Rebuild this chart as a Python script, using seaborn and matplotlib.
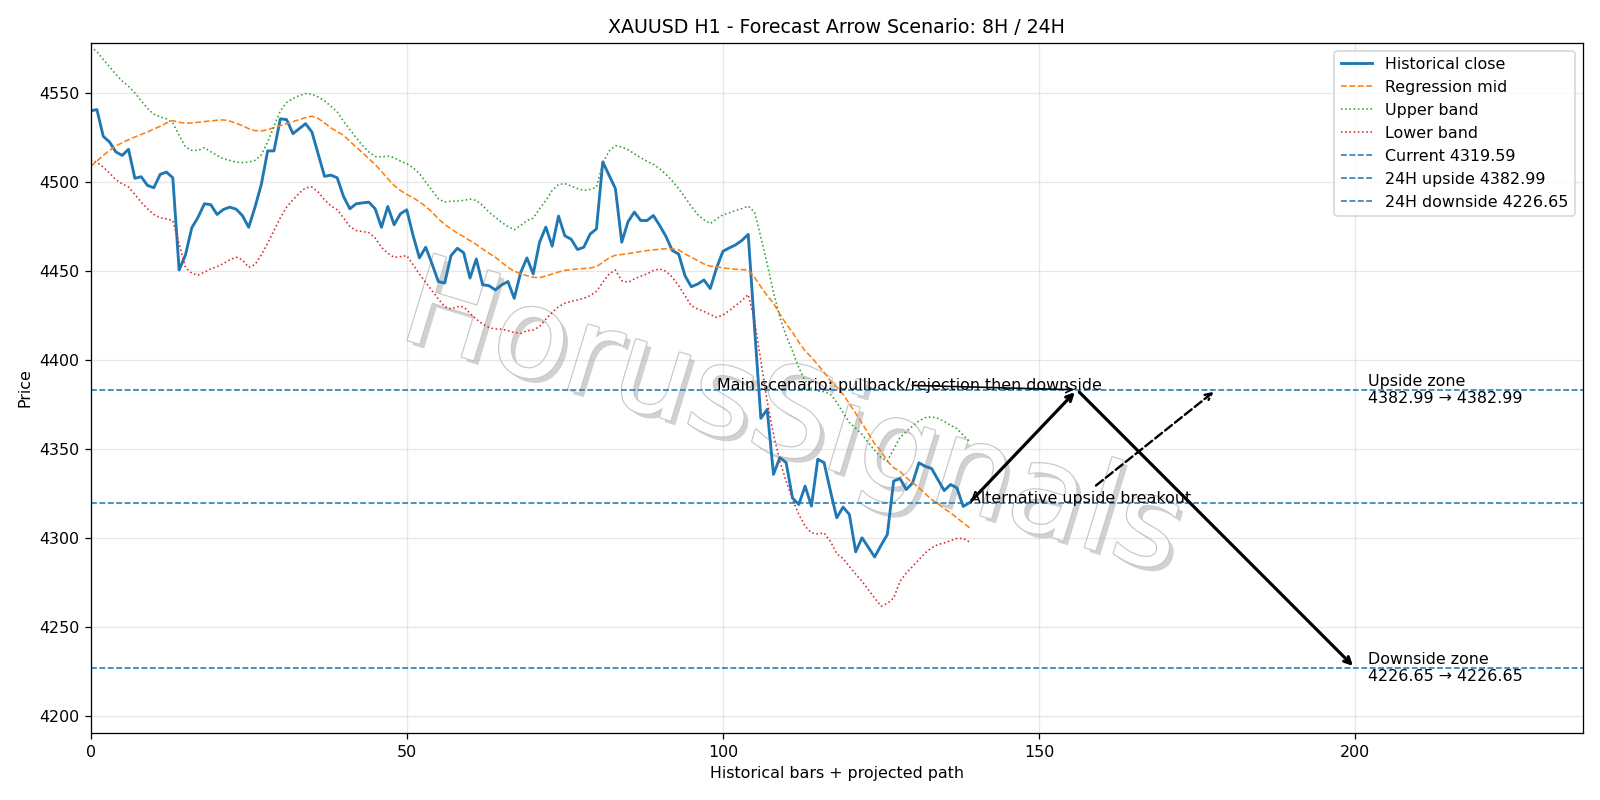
import numpy as np
import pandas as pd
import matplotlib
matplotlib.use("Agg")
import matplotlib.pyplot as plt
import matplotlib.patheffects as pe
import seaborn as sns

# --- data ---
close = [4539.7, 4540.4, 4525.4, 4522.2, 4516.6, 4514.7, 4518.1, 4501.8, 4502.7, 4497.8,
         4496.5, 4504.0, 4505.3, 4502.1, 4450.3, 4458.7, 4474.0, 4480.0, 4487.5, 4487.0,
         4481.5, 4484.3, 4485.6, 4484.5, 4480.9, 4474.3, 4485.6, 4498.4, 4517.2, 4517.2,
         4535.2, 4534.8, 4526.9, 4529.7, 4532.5, 4527.8, 4515.3, 4502.9, 4503.6, 4502.1,
         4491.6, 4484.7, 4487.5, 4488.0, 4488.4, 4484.7, 4474.3, 4486.0, 4475.7, 4481.9,
         4484.1, 4469.7, 4457.1, 4463.1, 4453.7, 4443.8, 4443.0, 4458.4, 4462.5, 4460.0,
         4445.8, 4456.5, 4442.0, 4441.5, 4439.1, 4441.9, 4443.8, 4434.4, 4448.7, 4457.1,
         4448.1, 4465.9, 4474.4, 4463.7, 4480.6, 4469.5, 4467.6, 4461.8, 4463.1, 4470.5,
         4473.4, 4511.0, 4503.5, 4496.0, 4465.9, 4477.5, 4482.8, 4478.1, 4478.1, 4480.9,
         4475.3, 4469.1, 4461.2, 4459.3, 4447.1, 4440.9, 4442.4, 4444.7, 4439.9, 4451.5,
         4460.8, 4462.7, 4464.4, 4466.9, 4470.3, 4418.0, 4367.0, 4372.0, 4335.5, 4344.9,
         4342.1, 4322.3, 4318.6, 4328.9, 4317.7, 4344.0, 4342.1, 4326.2, 4311.1, 4317.1,
         4313.0, 4292.0, 4299.9, 4294.5, 4289.1, 4295.6, 4301.7, 4331.7, 4333.2, 4327.0,
         4330.7, 4342.0, 4340.0, 4338.8, 4332.6, 4326.4, 4329.8, 4327.9, 4317.5, 4319.59]

mid = [4508.5, 4511.5, 4514.7, 4517.5, 4520.0, 4521.8, 4523.5, 4525.0, 4526.5, 4527.8,
       4529.5, 4531.0, 4532.9, 4534.2, 4533.3, 4532.7, 4532.9, 4533.3, 4533.7, 4534.0,
       4534.4, 4534.6, 4534.0, 4532.7, 4531.4, 4529.7, 4528.6, 4528.4, 4529.1, 4530.3,
       4531.4, 4532.5, 4533.6, 4534.8, 4535.9, 4536.7, 4535.4, 4532.9, 4530.1, 4528.0,
       4526.0, 4522.6, 4519.4, 4516.2, 4512.8, 4509.6, 4505.7, 4501.6, 4497.8, 4495.0,
       4492.7, 4490.9, 4488.6, 4486.0, 4482.8, 4479.1, 4475.9, 4473.4, 4471.0, 4469.0,
       4466.8, 4464.6, 4462.1, 4459.7, 4457.5, 4454.6, 4451.8, 4449.6, 4448.3, 4447.1,
       4446.2, 4446.0, 4446.9, 4448.1, 4449.2, 4450.1, 4450.5, 4450.9, 4451.1, 4451.4,
       4452.2, 4454.6, 4457.1, 4458.6, 4459.0, 4459.5, 4460.1, 4460.7, 4461.2, 4461.6,
       4462.0, 4462.2, 4462.2, 4461.6, 4459.4, 4457.5, 4455.6, 4453.7, 4452.4, 4452.2,
       4451.4, 4451.1, 4450.7, 4450.5, 4450.3, 4446.2, 4440.9, 4435.9, 4431.6, 4425.6,
       4420.0, 4415.3, 4409.7, 4404.9, 4401.2, 4397.1, 4392.8, 4388.0, 4384.5, 4380.5,
       4375.2, 4369.8, 4364.3, 4358.4, 4352.7, 4348.6, 4343.0, 4339.2, 4337.2, 4333.6,
       4330.8, 4328.0, 4324.6, 4321.4, 4319.0, 4316.3, 4313.9, 4311.1, 4308.3, 4305.5]

upper = [4575.7, 4572.9, 4568.6, 4564.4, 4560.1, 4556.5, 4553.5, 4549.8, 4545.3, 4541.0,
         4537.8, 4536.3, 4535.2, 4532.9, 4526.0, 4519.4, 4517.5, 4517.5, 4519.0, 4516.7,
         4514.7, 4512.8, 4511.9, 4510.9, 4510.6, 4510.9, 4511.9, 4515.0, 4522.2, 4531.0,
         4539.6, 4544.4, 4546.6, 4548.3, 4549.4, 4549.0, 4547.5, 4545.3, 4542.3, 4539.1,
         4533.8, 4529.2, 4524.6, 4520.3, 4516.6, 4514.1, 4513.8, 4514.3, 4513.4, 4511.5,
         4510.0, 4507.8, 4504.4, 4499.7, 4495.0, 4490.3, 4488.4, 4489.0, 4489.0, 4489.4,
         4490.1, 4489.4, 4486.5, 4482.8, 4480.0, 4477.1, 4474.7, 4472.9, 4475.3, 4478.1,
         4479.4, 4484.7, 4489.4, 4495.0, 4498.4, 4498.8, 4497.5, 4496.0, 4495.0, 4495.6,
         4496.8, 4510.4, 4517.1, 4520.1, 4519.4, 4517.9, 4515.6, 4513.4, 4511.3, 4509.6,
         4507.2, 4504.0, 4500.3, 4495.9, 4491.2, 4486.0, 4481.5, 4478.5, 4476.4, 4479.0,
         4481.3, 4482.4, 4483.7, 4484.8, 4486.2, 4482.8, 4468.7, 4453.7, 4437.7, 4423.7,
         4413.3, 4404.9, 4395.5, 4388.0, 4383.8, 4382.3, 4382.0, 4380.5, 4376.0, 4370.2,
         4364.6, 4361.4, 4358.0, 4353.3, 4349.0, 4344.9, 4343.0, 4349.6, 4356.2, 4359.5,
         4362.7, 4365.5, 4367.4, 4367.8, 4367.0, 4365.2, 4363.1, 4361.2, 4357.5, 4354.0]

lower = [4511.9, 4510.9, 4508.1, 4504.7, 4501.0, 4498.7, 4496.9, 4492.7, 4488.4, 4484.7,
         4481.5, 4479.6, 4479.0, 4478.1, 4464.9, 4451.8, 4448.4, 4447.5, 4449.0, 4451.0,
         4452.2, 4453.9, 4456.0, 4457.5, 4456.0, 4451.8, 4453.3, 4458.8, 4465.3, 4472.5,
         4479.6, 4485.6, 4489.7, 4493.5, 4496.5, 4496.9, 4494.1, 4489.7, 4486.4, 4484.1,
         4479.6, 4474.7, 4472.5, 4471.9, 4471.3, 4468.3, 4463.1, 4459.7, 4457.4, 4457.8,
         4458.4, 4453.3, 4448.0, 4443.4, 4438.7, 4434.0, 4429.7, 4428.4, 4429.7, 4429.7,
         4425.9, 4422.7, 4419.9, 4418.0, 4417.1, 4417.1, 4416.2, 4415.2, 4414.7, 4416.2,
         4416.6, 4418.5, 4422.7, 4426.5, 4429.7, 4431.6, 4432.7, 4433.5, 4434.4, 4435.9,
         4438.3, 4443.4, 4448.1, 4450.3, 4444.3, 4443.4, 4445.3, 4446.8, 4448.1, 4450.0,
         4450.9, 4449.6, 4446.2, 4441.5, 4435.9, 4430.2, 4428.4, 4427.0, 4425.3, 4423.7,
         4425.0, 4427.5, 4430.3, 4433.1, 4436.5, 4421.9, 4399.3, 4376.8, 4358.0, 4343.0,
         4331.7, 4321.4, 4313.0, 4306.4, 4302.6, 4302.1, 4302.6, 4297.9, 4291.0, 4288.2,
         4283.8, 4279.5, 4275.4, 4270.7, 4266.0, 4261.5, 4263.0, 4266.0, 4275.4, 4280.1,
         4283.8, 4287.6, 4291.4, 4294.2, 4296.1, 4297.0, 4298.3, 4299.5, 4299.5, 4297.5]

current = 4319.59
upside = 4382.99
downside = 4226.65

# projected path (bar index)
pull_x = 156
alt_x = 178
down_x = 200
label_x = 202

df = pd.DataFrame({"bar": np.arange(len(close)), "close": close, "mid": mid,
                   "upper": upper, "lower": lower})

fig, ax = plt.subplots(figsize=(14, 7), dpi=100)

sns.lineplot(data=df, x="bar", y="close", ax=ax, color="C0", linewidth=1.8, label="Historical close")
sns.lineplot(data=df, x="bar", y="mid", ax=ax, color="C1", linewidth=1, linestyle="--", label="Regression mid")
sns.lineplot(data=df, x="bar", y="upper", ax=ax, color="C2", linewidth=1, linestyle=":", label="Upper band")
sns.lineplot(data=df, x="bar", y="lower", ax=ax, color="C3", linewidth=1, linestyle=":", label="Lower band")

ax.axhline(current, color="C0", linestyle="--", linewidth=1, label=f"Current {current:.2f}")
ax.axhline(upside, color="C0", linestyle="--", linewidth=1, label=f"24H upside {upside:.2f}")
ax.axhline(downside, color="C0", linestyle="--", linewidth=1, label=f"24H downside {downside:.2f}")

last_x = len(close) - 1

# main scenario arrows
ax.annotate("", xy=(pull_x, upside), xytext=(last_x, current),
            arrowprops=dict(arrowstyle="->", color="black", lw=2))
ax.annotate("", xy=(down_x, downside), xytext=(pull_x, upside),
            arrowprops=dict(arrowstyle="->", color="black", lw=2))
ax.annotate("Main scenario: pullback/rejection then downside", xy=(pull_x, upside),
            xytext=(99, upside),
            arrowprops=dict(arrowstyle="->", color="black", lw=1))

# alternative
ax.annotate("Alternative upside breakout", xy=(alt_x, upside), xytext=(last_x, current),
            arrowprops=dict(arrowstyle="->", color="black", lw=1.5, linestyle="--"))

ax.text(label_x, upside, f"Upside zone\n{upside:.2f} → {upside:.2f}", va="center")
ax.text(label_x, downside, f"Downside zone\n{downside:.2f} → {downside:.2f}", va="center")

# watermark (behind the data)
wm = ax.text(0.495, 0.473, "HorusSignals", transform=fig.transFigure, fontsize=78, rotation=-17,
             ha="center", va="center", color="white", zorder=0.6)
wm.set_path_effects([pe.withSimplePatchShadow(offset=(3, -3), shadow_rgbFace="#999999", alpha=0.45),
                     pe.Stroke(linewidth=1.5, foreground="#c8c8c8"), pe.Normal()])

ax.set_xlim(0, 236)
ax.set_ylim(4190, 4578)
ax.set_title("XAUUSD H1 - Forecast Arrow Scenario: 8H / 24H")
ax.set_xlabel("Historical bars + projected path")
ax.set_ylabel("Price")
ax.grid(True, alpha=0.3)
ax.legend(loc="upper right")

plt.tight_layout()
plt.savefig("out.png", dpi=100 * 1600 / 1400)
